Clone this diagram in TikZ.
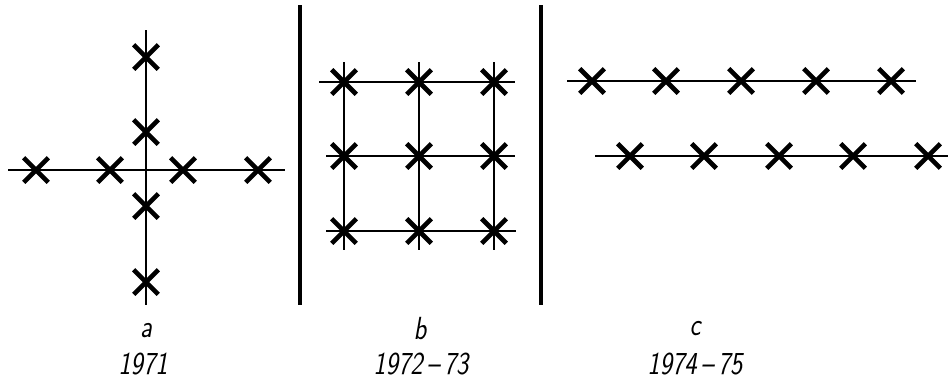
\documentclass[tikz,border=0pt]{standalone}
\usetikzlibrary{shapes.misc}

\begin{document}
\begin{tikzpicture}[
			x=0.5pt, y=-0.5pt,
			axis/.style={line width=0.6pt},
			divider/.style={line width=2pt},
			xmark/.style={cross out, draw, line width=2.3pt, minimum size=10pt, inner sep=0pt},
			caption/.style={font=\fontsize{16}{16}\sffamily\slshape, xscale=0.82, inner sep=0pt}
			]
			\useasboundingbox (0,0) rectangle (948,381);
			% a -- 1971
			\coordinate (a_l) at (8,170);
			\coordinate (a_r) at (285,170);
			\coordinate (a_t) at (146,30);
			\coordinate (a_b) at (146,305);
			\draw[axis] (a_l) -- (a_r);
			\draw[axis] (a_t) -- (a_b);
			\node[xmark] (a_w2) at (36,170) {};
			\node[xmark] (a_w1) at (110,170) {};
			\node[xmark] (a_e1) at (183,170) {};
			\node[xmark] (a_e2) at (258,170) {};
			\node[xmark] (a_n2) at (146,57) {};
			\node[xmark] (a_n1) at (146,132) {};
			\node[xmark] (a_s1) at (146,206) {};
			\node[xmark] (a_s2) at (146,282) {};
			% dividers
			\coordinate (d1_t) at (300,5);
			\coordinate (d1_b) at (300,305);
			\coordinate (d2_t) at (541,5);
			\coordinate (d2_b) at (541,305);
			\draw[divider] (d1_t) -- (d1_b);
			\draw[divider] (d2_t) -- (d2_b);
			% b -- 1972-73
			\coordinate (b_l1) at (319,82);  \coordinate (b_r1) at (515,82);
			\coordinate (b_l2) at (326,156); \coordinate (b_r2) at (515,156);
			\coordinate (b_l3) at (326,231); \coordinate (b_r3) at (516,231);
			\coordinate (b_t1) at (344,62);  \coordinate (b_b1) at (344,250);
			\coordinate (b_t2) at (419,62);  \coordinate (b_b2) at (419,250);
			\coordinate (b_t3) at (494,62);  \coordinate (b_b3) at (494,250);
			\draw[axis] (b_l1) -- (b_r1) (b_l2) -- (b_r2) (b_l3) -- (b_r3);
			\draw[axis] (b_t1) -- (b_b1) (b_t2) -- (b_b2) (b_t3) -- (b_b3);
			\node[xmark] (b_11) at (344,82) {};
			\node[xmark] (b_12) at (419,82) {};
			\node[xmark] (b_13) at (494,82) {};
			\node[xmark] (b_21) at (344,156) {};
			\node[xmark] (b_22) at (419,156) {};
			\node[xmark] (b_23) at (494,156) {};
			\node[xmark] (b_31) at (344,231) {};
			\node[xmark] (b_32) at (419,231) {};
			\node[xmark] (b_33) at (494,231) {};
			% c -- 1974-75
			\coordinate (c_l1) at (567,81);  \coordinate (c_r1) at (916,81);
			\coordinate (c_l2) at (595,156); \coordinate (c_r2) at (948,156);
			\draw[axis] (c_l1) -- (c_r1);
			\draw[axis] (c_l2) -- (c_r2);
			\node[xmark] (c_11) at (592,81) {};
			\node[xmark] (c_12) at (666,81) {};
			\node[xmark] (c_13) at (741,81) {};
			\node[xmark] (c_14) at (816,81) {};
			\node[xmark] (c_15) at (891,81) {};
			\node[xmark] (c_21) at (630,156) {};
			\node[xmark] (c_22) at (704,156) {};
			\node[xmark] (c_23) at (779,156) {};
			\node[xmark] (c_24) at (853,156) {};
			\node[xmark] (c_25) at (928,156) {};
			% captions
			\node[caption] (a_name) at (146,331) {a};
			\node[caption] (a_year) at (143,364) {1971};
			\node[caption] (b_name) at (420,329) {b};
			\node[caption] (b_year) at (421,364) {1972\,--\,73};
			\node[caption] (c_name) at (695,329) {c};
			\node[caption] (c_year) at (695,364) {1974\,--\,75};
		\end{tikzpicture}
\end{document}
